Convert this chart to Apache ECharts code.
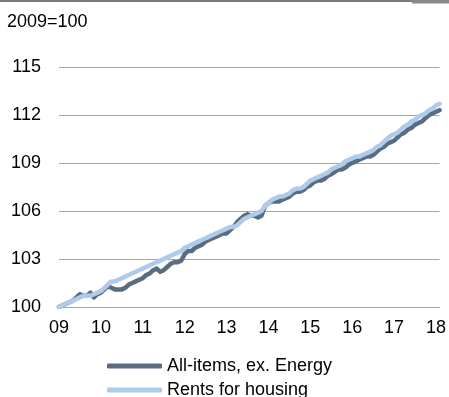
<!DOCTYPE html>
<html>
<head>
<meta charset="utf-8">
<script src="https://cdn.jsdelivr.net/npm/echarts@6/dist/echarts.min.js"></script>
<style>
  html, body { margin: 0; padding: 0; background: #fff; }
  #chart { width: 449px; height: 397px; }
</style>
</head>
<body>
<div id="chart"></div>
<script>
// Monthly index levels, Jan 2009 – Feb 2018 (2009 = 100)
const yearLabels = ['09', '10', '11', '12', '13', '14', '15', '16', '17', '18'];
const seriesNames = ['All-items, ex. Energy', 'Rents for housing'];
const startYear = 2009;
const monthCount = 110;

const allItemsExEnergy = [
  100.0, 100.1, 100.2, 100.3, 100.4, 100.6, 100.8, 100.7, 100.7, 100.9, 100.6, 100.8,
  100.9, 101.1, 101.3, 101.2, 101.1, 101.1, 101.1, 101.2, 101.4, 101.5, 101.6, 101.7,
  101.8, 102.0, 102.1, 102.3, 102.4, 102.2, 102.3, 102.5, 102.7, 102.8, 102.8, 102.9,
  103.3, 103.5, 103.5, 103.7, 103.8, 103.9, 104.1, 104.2, 104.3, 104.4, 104.5, 104.6,
  104.6, 104.8, 105.0, 105.3, 105.5, 105.7, 105.8, 105.7, 105.7, 105.6, 105.7, 106.3,
  106.5, 106.6, 106.6, 106.6, 106.7, 106.8, 106.9, 107.1, 107.2, 107.2, 107.3, 107.5,
  107.6, 107.8, 107.9, 107.9, 108.0, 108.2, 108.3, 108.45, 108.6, 108.6, 108.7, 108.9,
  109.0, 109.1, 109.2, 109.3, 109.4, 109.4, 109.5, 109.7, 109.9, 110.0, 110.2, 110.3,
  110.4, 110.6, 110.8, 110.9, 111.1, 111.2, 111.4, 111.5, 111.6, 111.8, 112.0, 112.1,
  112.2, 112.3
];

const rentsForHousing = [
  100.0, 100.1, 100.2, 100.3, 100.4, 100.5, 100.6, 100.7, 100.7, 100.7, 100.8, 100.9,
  101.0, 101.2, 101.4, 101.6, 101.6, 101.7, 101.8, 101.9, 102.0, 102.1, 102.2, 102.3,
  102.4, 102.5, 102.6, 102.7, 102.8, 102.9, 103.0, 103.1, 103.2, 103.3, 103.4, 103.5,
  103.7, 103.8, 103.9, 104.0, 104.1, 104.2, 104.3, 104.4, 104.5, 104.6, 104.7, 104.8,
  104.9, 105.0, 105.0, 105.1, 105.3, 105.5, 105.6, 105.7, 105.8, 105.9, 106.0, 106.3,
  106.5, 106.7, 106.8, 106.9, 106.9, 107.0, 107.1, 107.3, 107.4, 107.4, 107.5, 107.7,
  107.9, 108.0, 108.1, 108.2, 108.3, 108.4, 108.6, 108.7, 108.8, 108.9, 109.1, 109.2,
  109.3, 109.4, 109.4, 109.5, 109.6, 109.7, 109.8, 110.0, 110.1, 110.3, 110.5, 110.7,
  110.8, 110.9, 111.1, 111.3, 111.4, 111.6, 111.7, 111.9, 112.0, 112.1, 112.3, 112.4,
  112.6, 112.7
];

// Month categories "YYYY-MM"
const months = [];
for (let i = 0; i < monthCount; i++) {
  const y = startYear + Math.floor(i / 12);
  const m = (i % 12) + 1;
  months.push(y + '-' + (m < 10 ? '0' + m : m));
}

const FONT = '"Liberation Sans", Arial, sans-serif';
const GRID_COLOR = '#a6a6a6';
const DARK = '#5a6d80';
const LIGHT = '#aecbec';

// One legend row per series, stacked vertically
function legendRow(name, top) {
  return {
    left: 107,
    top: top,
    padding: 0,
    itemWidth: 55,
    itemHeight: 5,
    itemGap: 0,
    icon: 'roundRect',
    textStyle: { fontSize: 18, fontFamily: FONT, color: '#000' },
    data: [name]
  };
}

const chart = echarts.init(document.getElementById('chart'), null, { renderer: 'canvas' });

chart.setOption({
  animation: false,
  backgroundColor: '#ffffff',
  textStyle: { fontFamily: FONT },
  graphic: [
    { type: 'rect', left: 0, top: 0, shape: { width: 412, height: 2 }, style: { fill: '#7a7a7a' } },
    { type: 'rect', left: 412, top: 0, shape: { width: 37, height: 3.5 }, style: { fill: '#8a8a8a' } },
    {
      type: 'text', left: 7, top: 13,
      style: { text: '2009=100', fontSize: 18, fontFamily: FONT, fill: '#000' }
    }
  ],
  grid: { left: 59, right: 2, top: 67, bottom: 90, containLabel: false },
  legend: [
    legendRow(seriesNames[0], 357),
    legendRow(seriesNames[1], 381)
  ],
  xAxis: {
    type: 'category',
    data: months,
    boundaryGap: false,
    axisLine: { show: true, lineStyle: { color: GRID_COLOR, width: 1 } },
    axisTick: { show: false },
    splitLine: { show: false },
    axisLabel: {
      margin: 12,
      fontSize: 18,
      fontFamily: FONT,
      color: '#000',
      interval: function (index) { return index % 12 === 0; },
      formatter: function (value, index) { return yearLabels[Math.floor(index / 12)]; }
    }
  },
  yAxis: {
    type: 'value',
    min: 100,
    max: 115,
    interval: 3,
    axisLine: { show: false },
    axisTick: { show: false },
    splitLine: { show: true, lineStyle: { color: GRID_COLOR, width: 1 } },
    axisLabel: { margin: 18, fontSize: 18, fontFamily: FONT, color: '#000' }
  },
  series: [
    {
      name: seriesNames[0],
      type: 'line',
      data: allItemsExEnergy,
      symbol: 'none',
      color: DARK,
      lineStyle: { width: 4.5, color: DARK, cap: 'round', join: 'round' }
    },
    {
      name: seriesNames[1],
      type: 'line',
      data: rentsForHousing,
      symbol: 'none',
      color: LIGHT,
      lineStyle: { width: 4.5, color: LIGHT, cap: 'round', join: 'round' }
    }
  ]
});
</script>
</body>
</html>
